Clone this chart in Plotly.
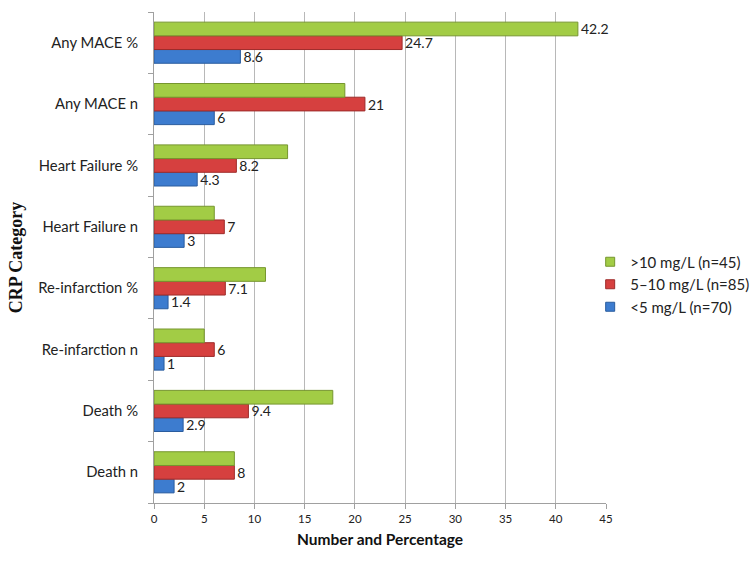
import plotly.graph_objects as go

categories = ["Death n", "Death %", "Re-infarction n", "Re-infarction %",
              "Heart Failure n", "Heart Failure %", "Any MACE n", "Any MACE %"]
low_vals = [2, 2.9, 1, 1.4, 3, 4.3, 6, 8.6]          # <5 mg/L (n=70)
mid_vals = [8, 9.4, 6, 7.1, 7, 8.2, 21, 24.7]        # 5–10 mg/L (n=85)
high_vals = [8, 17.8, 5, 11.1, 6, 13.3, 19, 42.2]    # >10 mg/L (n=45)
high_labelled = ["Any MACE %"]
x_ticks = [0, 5, 10, 15, 20, 25, 30, 35, 40, 45]

FONT = "Lato"

def fmt(v):
    return f"{v:g}"

series = [
    ("<5 mg/L (n=70)", low_vals, "#3D7CCF", "#2A5C9E", [fmt(v) for v in low_vals]),
    ("5–10 mg/L (n=85)", mid_vals, "#D6403F", "#9E2B2A", [fmt(v) for v in mid_vals]),
    (">10 mg/L (n=45)", high_vals, "#A2CC45", "#76962E",
     [fmt(v) if c in high_labelled else "" for c, v in zip(categories, high_vals)]),
]

fig = go.Figure()
for i, (name, vals, col, edge, txt) in enumerate(series):
    fig.add_trace(go.Bar(
        y=categories, x=vals, orientation="h", name=name, showlegend=False,
        marker=dict(color=col, line=dict(color=edge, width=1)),
        text=txt, textposition="outside", constraintext="none",
        textfont=dict(family=FONT, size=14, color="#222"), cliponaxis=False))
    fig.add_trace(go.Scatter(
        x=[None], y=[None], mode="markers", name=name, legendgroup=f"g{i}",
        marker=dict(symbol="square", size=9, color=col, line=dict(color=edge, width=1))))

fig.update_layout(
    width=750, height=563,
    margin=dict(l=154, r=144, t=12, b=60, autoexpand=False),
    paper_bgcolor="white", plot_bgcolor="white",
    barmode="group", bargap=0.33, bargroupgap=0,
    font=dict(family=FONT, color="#222"),
    legend=dict(traceorder="reversed", x=0.965, xanchor="left", y=0.445, yanchor="middle",
                bgcolor="rgba(0,0,0,0)",
                font=dict(family=FONT, size=15, color="#222"),
                itemwidth=30, tracegroupgap=4),
    xaxis=dict(range=[0, 45], tickvals=x_ticks, showgrid=True, gridcolor="#B8B8B8", gridwidth=1,
               showline=True, linecolor="#A0A0A0", ticks="outside", ticklen=5, tickcolor="#A0A0A0",
               tickfont=dict(family=FONT, size=11.5, color="#222"), zeroline=False, automargin=False,
               title=dict(text="<b>Number and Percentage</b>", font=dict(family=FONT, size=15.5, color="#111"),
                          standoff=10)),
    yaxis=dict(categoryorder="array", categoryarray=categories, automargin=False,
               showline=True, linecolor="#A0A0A0", ticks="outside", ticklen=5, tickcolor="#A0A0A0",
               tickson="boundaries", showgrid=False, ticklabelstandoff=12,
               tickfont=dict(family=FONT, size=14.8, color="#222"),
               title=dict(text="<b>CRP Category</b>",
                          font=dict(family="Liberation Serif", size=18, color="#111"), standoff=10)),
)

fig.write_html("out.html")
